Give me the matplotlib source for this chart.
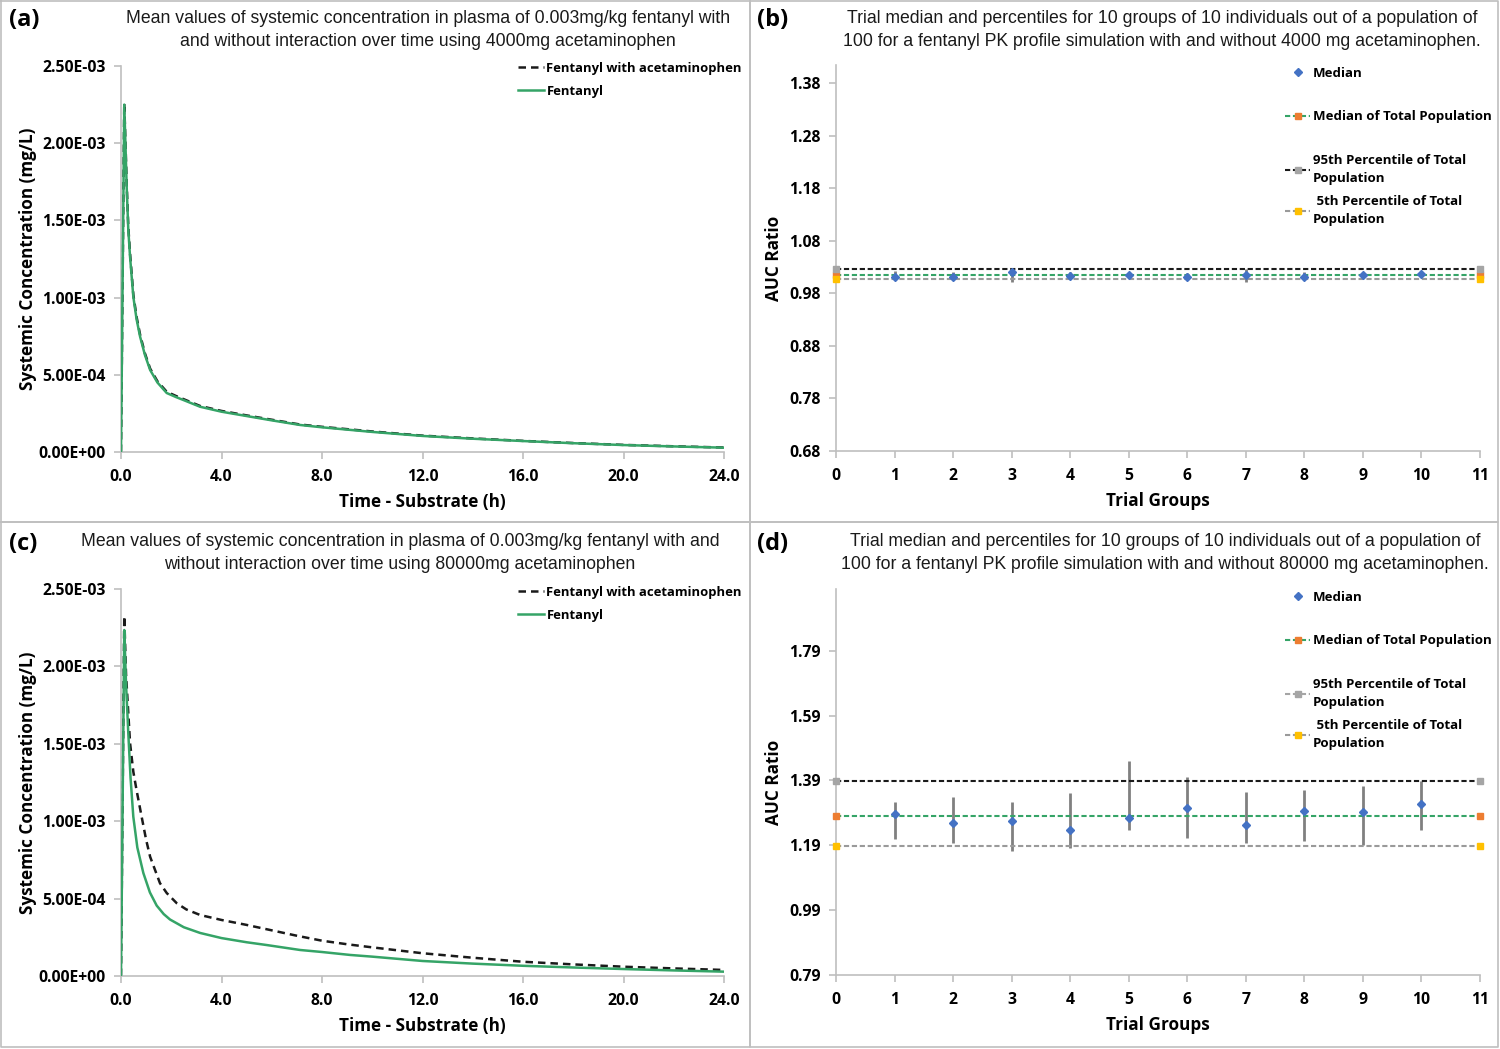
import matplotlib
matplotlib.use('Agg')
import matplotlib.pyplot as plt
from matplotlib.lines import Line2D
from matplotlib.ticker import FuncFormatter, MultipleLocator
import numpy as np

plt.rcParams['font.family'] = ['Open Sans', 'DejaVu Sans']

## Data (concentrations in mg/L)

# (a) 4000 mg acetaminophen
t_a = [0, 0.13, 0.23, 0.29, 0.36, 0.49, 0.62, 0.76, 0.95, 1.16, 1.45, 1.82, 2.2, 2.48,
       3.15, 4.0, 5.14, 6.0, 7.13, 8.0, 10.0, 12.0, 14.0, 16.0, 18.0, 20.0, 22.0, 24.0]
fen_a = [0, 2.25e-3, 1.70e-3, 1.44e-3, 1.265e-3, 1.006e-3, 0.86e-3, 0.747e-3, 0.63e-3,
         0.531e-3, 0.45e-3, 0.382e-3, 0.355e-3, 0.337e-3, 0.293e-3, 0.261e-3, 0.229e-3,
         0.205e-3, 0.175e-3, 0.160e-3, 0.130e-3, 0.104e-3, 0.086e-3, 0.071e-3, 0.057e-3,
         0.045e-3, 0.036e-3, 0.028e-3]
fen_apap_a = [0, 2.26e-3, 1.72e-3, 1.46e-3, 1.285e-3, 1.02e-3, 0.875e-3, 0.76e-3, 0.64e-3,
              0.54e-3, 0.458e-3, 0.39e-3, 0.362e-3, 0.343e-3, 0.298e-3, 0.266e-3, 0.233e-3,
              0.209e-3, 0.178e-3, 0.163e-3, 0.133e-3, 0.106e-3, 0.088e-3, 0.072e-3, 0.058e-3,
              0.046e-3, 0.037e-3, 0.029e-3]

# (c) 80000 mg acetaminophen
t_c = [0, 0.13, 0.2, 0.29, 0.38, 0.49, 0.65, 0.89, 1.15, 1.42, 1.7, 1.95, 2.5, 3.15, 4.0,
       5.0, 5.8, 7.13, 8.0, 9.12, 10.0, 12.0, 14.0, 16.0, 18.0, 20.0, 22.0, 24.0]
fen_c = [0, 2.235e-3, 1.89e-3, 1.57e-3, 1.28e-3, 1.029e-3, 0.83e-3, 0.665e-3, 0.54e-3,
         0.455e-3, 0.40e-3, 0.365e-3, 0.315e-3, 0.278e-3, 0.245e-3, 0.218e-3, 0.2e-3, 0.168e-3,
         0.155e-3, 0.136e-3, 0.125e-3, 0.097e-3, 0.08e-3, 0.066e-3, 0.055e-3, 0.045e-3,
         0.036e-3, 0.028e-3]
t_apap_c = [0, 0.13, 0.2, 0.29, 0.36, 0.49, 0.62, 0.82, 1.0, 1.16, 1.55, 1.82, 2.22, 2.6,
            3.15, 4.0, 5.0, 6.0, 7.0, 8.0, 9.0, 10.0, 12.0, 14.0, 16.0, 18.0, 20.0, 22.0, 24.0]
fen_apap_c = [0, 2.325e-3, 1.95e-3, 1.70e-3, 1.505e-3, 1.32e-3, 1.20e-3, 1.03e-3, 0.88e-3,
              0.77e-3, 0.60e-3, 0.536e-3, 0.47e-3, 0.43e-3, 0.394e-3, 0.362e-3, 0.33e-3,
              0.295e-3, 0.26e-3, 0.228e-3, 0.205e-3, 0.185e-3, 0.147e-3, 0.118e-3, 0.092e-3,
              0.075e-3, 0.06e-3, 0.049e-3, 0.039e-3]

# trial groups (b) and (d)
groups = [1, 2, 3, 4, 5, 6, 7, 8, 9, 10]
line_x = [0, 11]

med_b = [1.0116, 1.0116, 1.021, 1.0135, 1.0148, 1.0116, 1.0148, 1.0116, 1.0148, 1.017]
lo_b = [1.0066, 1.0066, 1.002, 1.0085, 1.0085, 1.0085, 1.002, 1.0066, 1.0085, 1.0104]
hi_b = [1.023, 1.021, 1.0275, 1.021, 1.021, 1.018, 1.0275, 1.021, 1.019, 1.023]
p95_b, medtot_b, p5_b = 1.0275, 1.015, 1.0066

med_d = [1.286, 1.260, 1.266, 1.238, 1.273, 1.304, 1.253, 1.295, 1.292, 1.316]
lo_d = [1.210, 1.198, 1.172, 1.180, 1.236, 1.212, 1.197, 1.203, 1.190, 1.238]
hi_d = [1.322, 1.340, 1.324, 1.350, 1.449, 1.400, 1.355, 1.360, 1.373, 1.388]
p95_d, medtot_d, p5_d = 1.388, 1.281, 1.188

## Styles
GREEN = '#35A467'
BLUE = '#4472C4'
ORANGE = '#ED7D31'
GREYM = '#A5A5A5'
YELLOW = '#FFC000'
AXC = '#BFBFBF'
DASH = (0, (2.5, 1.3))
W, H = 1500, 1049

fig = plt.figure(figsize=(15, 10.49), dpi=100)

def px_axes(left, top, right, bottom):
  return fig.add_axes([left / W, 1 - bottom / H, (right - left) / W, (bottom - top) / H])

def style(ax):
  for s in ['top', 'right']:
    ax.spines[s].set_visible(False)
  for s in ['left', 'bottom']:
    ax.spines[s].set_color(AXC)
    ax.spines[s].set_linewidth(1.2)
  ax.tick_params(direction='out', length=5, color=AXC, width=1.2,
                 labelsize=11.3, pad=6)
  ax.tick_params(axis='x', pad=7)
  for lab in ax.get_xticklabels() + ax.get_yticklabels():
    lab.set_fontweight('bold')

def conc_panel(ax, t1, y1, t2, y2):
  ax.plot(t1, y1, color='#1a1a1a', lw=1.8, ls=(0, (3, 2)), label='Fentanyl with acetaminophen', zorder=2)
  ax.plot(t2, y2, color=GREEN, lw=1.8, label='Fentanyl', zorder=3)
  ax.set_xlim(0, 24)
  ax.set_ylim(0, 2.5e-3)
  ax.xaxis.set_major_locator(MultipleLocator(4))
  ax.yaxis.set_major_locator(MultipleLocator(5e-4))
  ax.xaxis.set_major_formatter(FuncFormatter(lambda v, p: f'{v:.1f}'))
  ax.yaxis.set_major_formatter(FuncFormatter(lambda v, p: f'{v:.2E}'))
  style(ax)
  ax.set_xlabel('Time - Substrate (h)', fontsize=12.3, fontweight='bold')
  ax.set_ylabel('Systemic Concentration (mg/L)', fontsize=12.3, fontweight='bold')
  ax.xaxis.set_label_coords(0.5, -0.105)
  ax.yaxis.set_label_coords(-0.14, 0.5)

def ratio_panel(ax, med, lo, hi, p95, mt, p5, ylim, step, grey95_legend=False):
  ax.vlines(groups, lo, hi, color='#808080', lw=2, zorder=2)
  ax.plot(groups, med, ls='none', marker='D', ms=4.5, color=BLUE, zorder=4)
  ax.plot(line_x, [mt, mt], color=GREEN, lw=1.5, ls=DASH, marker='s', ms=3.8,
          mfc=ORANGE, mec=ORANGE, zorder=3, clip_on=False)
  ax.plot(line_x, [p95, p95], color='#1a1a1a', lw=1.5, ls=DASH, marker='s', ms=3.8,
          mfc=GREYM, mec=GREYM, zorder=3, clip_on=False)
  ax.plot(line_x, [p5, p5], color='#9a9a9a', lw=1.5, ls=DASH, marker='s', ms=3.8,
          mfc=YELLOW, mec=YELLOW, zorder=3, clip_on=False)
  ax.set_xlim(0, 11)
  ax.set_ylim(*ylim)
  ax.set_yticks(np.round(np.arange(ylim[0], ylim[1], step), 2))
  ax.set_xticks(range(0, 12))
  ax.yaxis.set_major_formatter(FuncFormatter(lambda v, p: f'{v:.2f}'))
  style(ax)
  ax.set_xlabel('Trial Groups', fontsize=12.3, fontweight='bold')
  ax.set_ylabel('AUC Ratio', fontsize=12.3, fontweight='bold')
  ax.xaxis.set_label_coords(0.5, -0.105)
  ax.yaxis.set_label_coords(-0.082, 0.5)

  c95 = GREYM if grey95_legend else '#1a1a1a'
  handles = [
    Line2D([], [], ls='none', marker='D', ms=4, color=BLUE),
    Line2D([], [], color=GREEN, lw=1.5, ls=DASH, marker='s', ms=3.8, mfc=ORANGE, mec=ORANGE),
    Line2D([], [], color=c95, lw=1.5, ls=DASH, marker='s', ms=3.8, mfc=GREYM, mec=GREYM),
    Line2D([], [], color='#9a9a9a', lw=1.5, ls=DASH, marker='s', ms=3.8, mfc=YELLOW, mec=YELLOW),
  ]
  labels = ['Median', 'Median of Total Population',
            '95th Percentile of Total\nPopulation', ' 5th Percentile of Total\nPopulation']
  return handles, labels

ax_a = px_axes(121, 66, 724, 452)
conc_panel(ax_a, t_a, fen_apap_a, t_a, fen_a)
ax_c = px_axes(121, 589, 724, 976)
conc_panel(ax_c, t_apap_c, fen_apap_c, t_c, fen_c)

ax_b = px_axes(836, 65, 1480, 451)
hb, lb = ratio_panel(ax_b, med_b, lo_b, hi_b, p95_b, medtot_b, p5_b, (0.68, 1.415), 0.1)
ax_d = px_axes(836, 589, 1480, 975)
hd, ld = ratio_panel(ax_d, med_d, lo_d, hi_d, p95_d, medtot_d, p5_d, (0.79, 1.98), 0.2, grey95_legend=True)

# legends
for ax, top in [(ax_a, 62), (ax_c, 586)]:
  h, l = ax.get_legend_handles_labels()
  ax.legend(h, l, loc='upper right', bbox_to_anchor=(742 / W, 1 - top / H), bbox_transform=fig.transFigure,
            frameon=False, borderpad=0, borderaxespad=0, handlelength=2.0, handletextpad=0.2,
            labelspacing=0.75, prop={'weight': 'bold', 'size': 9.4})

lprop = {'weight': 'bold', 'size': 9.5}
for ax, h, l, top in [(ax_b, hb, lb, 67), (ax_d, hd, ld, 591)]:
  leg1 = ax.legend(h[:3], l[:3], loc='upper left', bbox_to_anchor=(1285 / W, 1 - top / H),
                   bbox_transform=fig.transFigure, frameon=False, borderpad=0, borderaxespad=0,
                   handlelength=1.9, handletextpad=0.2, labelspacing=2.3, prop=lprop)
  for t in leg1.get_texts():
    t.set_linespacing(1.5)
  ax.add_artist(leg1)
  leg2 = ax.legend(h[3:], l[3:], loc='upper left', bbox_to_anchor=(1285 / W, 1 - (top + 128) / H),
                   bbox_transform=fig.transFigure, frameon=False, borderpad=0, borderaxespad=0,
                   handlelength=1.9, handletextpad=0.2, prop=lprop)
  for t in leg2.get_texts():
    t.set_linespacing(1.5)

# titles
tfont = dict(family=['Liberation Sans', 'DejaVu Sans'], fontsize=12.7, ha='center', va='center',
             linespacing=1.4, color='#1a1a1a')
fig.text(428 / W, 1 - 30 / H, 'Mean values of systemic concentration in plasma of 0.003mg/kg fentanyl with\n'
         'and without interaction over time using 4000mg acetaminophen', **tfont)
fig.text(1162 / W, 1 - 30 / H, 'Trial median and percentiles for 10 groups of 10 individuals out of a population of\n'
         '100 for a fentanyl PK profile simulation with and without 4000 mg acetaminophen.', **tfont)
fig.text(400 / W, 1 - 553 / H, 'Mean values of systemic concentration in plasma of 0.003mg/kg fentanyl with and\n'
         'without interaction over time using 80000mg acetaminophen', **tfont)
fig.text(1165 / W, 1 - 553 / H, 'Trial median and percentiles for 10 groups of 10 individuals out of a population of\n'
         '100 for a fentanyl PK profile simulation with and without 80000 mg acetaminophen.', **tfont)

# panel letters
for s, x, y in [('(a)', 9, 20), ('(b)', 757, 20), ('(c)', 9, 544), ('(d)', 757, 544)]:
  fig.text(x / W, 1 - y / H, s, fontsize=17, fontweight='bold', ha='left', va='center')

# panel frames
for x0, y0, x1, y1 in [(1, 1, 750, 522), (750, 1, 1498, 522), (1, 522, 750, 1047), (750, 522, 1498, 1047)]:
  xs = np.array([x0, x1, x1, x0, x0]) / W
  ys = 1 - np.array([y0, y0, y1, y1, y0]) / H
  fig.add_artist(Line2D(xs, ys, color='#BFBFBF', lw=1.2, transform=fig.transFigure))

fig.savefig('out.png', dpi=100, facecolor='white')
